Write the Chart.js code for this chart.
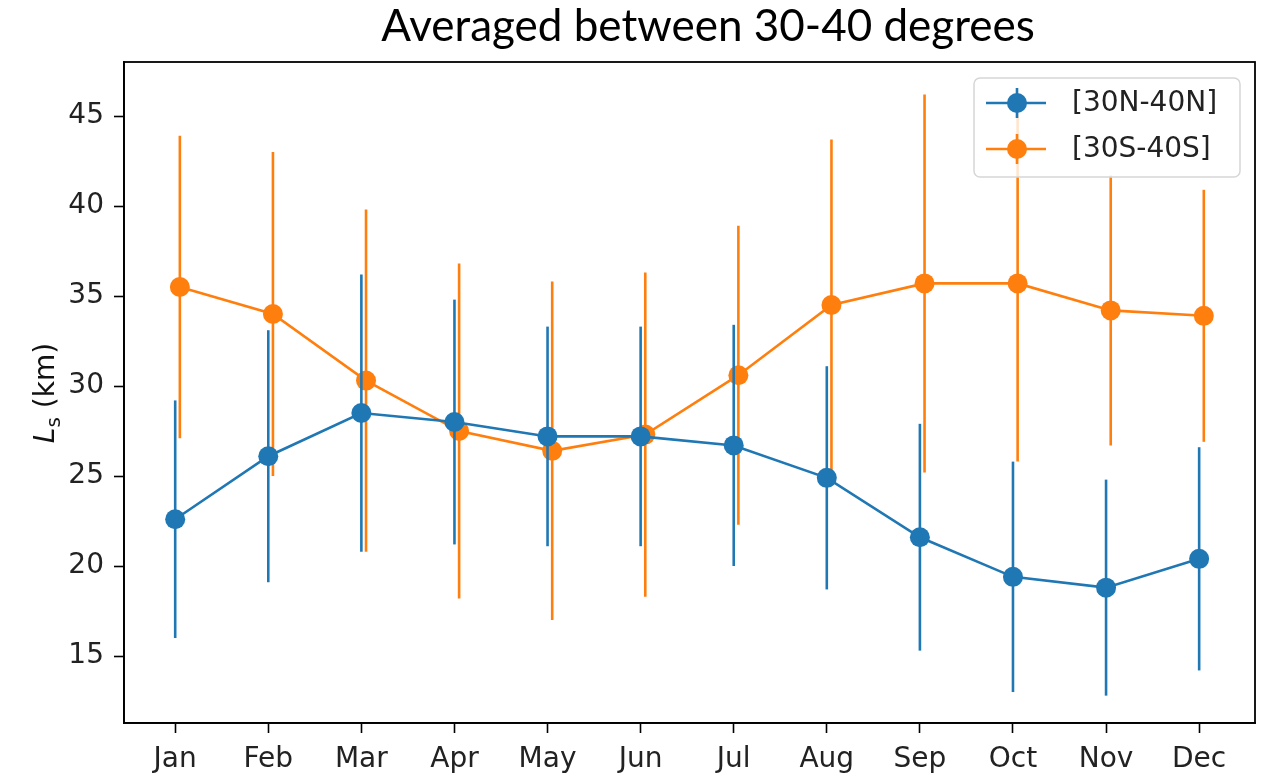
<!DOCTYPE html>
<html>
<head>
<meta charset="utf-8">
<style>
  body { margin: 0; background: #fff; }
  #wrap { width: 1266px; height: 776px; }
</style>
</head>
<body>
<div id="wrap"><canvas id="ls_chart" width="1266" height="776"></canvas></div>

<script src="https://cdn.jsdelivr.net/npm/chart.js"></script>
<script>
    // values (km)
    const months = ['Jan', 'Feb', 'Mar', 'Apr', 'May', 'Jun', 'Jul', 'Aug', 'Sep', 'Oct', 'Nov', 'Dec'];
    const north_mean = [22.6, 26.1, 28.5, 28.0, 27.2, 27.2, 26.7, 24.9, 21.6, 19.4, 18.8, 20.4];
    const north_err = [6.6, 7.0, 7.7, 6.8, 6.1, 6.1, 6.7, 6.2, 6.3, 6.4, 6.0, 6.2];
    const south_mean = [35.5, 34.0, 30.3, 27.5, 26.4, 27.3, 30.6, 34.5, 35.7, 35.7, 34.2, 33.9];
    const south_err = [8.4, 9.0, 9.5, 9.3, 9.4, 9.0, 8.3, 9.2, 10.5, 9.9, 7.5, 7.0];
    const y_ticks = [15, 20, 25, 30, 35, 40, 45];

    const blue = '#1f77b4';
    const orange = '#ff7f0e';
    const tickFont = { family: 'DejaVu Sans', size: 28 };

    function toPoints(values, shift){
        return values.map((v, i) => ({ x: i + shift, y: v }))
    }

    const errorBars = {
        id: 'errorBars',
        beforeDatasetDraw(chart, args){
            const ds = chart.data.datasets[args.index];
            const meta = args.meta;
            const y = chart.scales.y;
            const ctx = chart.ctx;
            const area = chart.chartArea;
            ctx.save();
            ctx.beginPath();
            ctx.rect(area.left, area.top, area.right - area.left, area.bottom - area.top);
            ctx.clip();
            ctx.strokeStyle = ds.borderColor;
            ctx.lineWidth = 2.6;
            meta.data.forEach((pt, i) => {
                const v = ds.data[i].y, e = ds.errors[i];
                ctx.beginPath();
                ctx.moveTo(pt.x, y.getPixelForValue(v - e));
                ctx.lineTo(pt.x, y.getPixelForValue(v + e));
                ctx.stroke();
            });
            ctx.restore();
        }
    };

    const decorations = {
        id: 'decorations',
        beforeDraw(chart){
            const ctx = chart.ctx;
            ctx.save();
            ctx.fillStyle = '#fff';
            ctx.fillRect(0, 0, chart.width, chart.height);
            ctx.restore();
        },
        afterDraw(chart){
            const ctx = chart.ctx;
            const area = chart.chartArea;
            ctx.save();

            // axes frame
            ctx.strokeStyle = '#000';
            ctx.lineWidth = 1.8;
            ctx.strokeRect(area.left, area.top, area.right - area.left, area.bottom - area.top);

            // title
            ctx.fillStyle = '#000';
            ctx.font = '44px Lato';
            ctx.textAlign = 'center';
            ctx.textBaseline = 'alphabetic';
            ctx.fillText('Averaged between 30-40 degrees', 708, 41);

            // y label: L_s (km)
            ctx.translate(54, 393);
            ctx.rotate(-Math.PI / 2);
            ctx.textAlign = 'left';
            ctx.fillStyle = '#111';
            const fL = 'italic 28px "DejaVu Sans"', fs = '20px "DejaVu Sans"', fk = '28px "DejaVu Sans"';
            ctx.font = fL; const wL = ctx.measureText('L').width;
            ctx.font = fs; const ws = ctx.measureText('s').width;
            ctx.font = fk; const wk = ctx.measureText(' (km)').width;
            let x0 = -(wL + ws + wk) / 2;
            ctx.font = fL; ctx.fillText('L', x0, 0);
            ctx.font = fs; ctx.fillText('s', x0 + wL, 6);
            ctx.font = fk; ctx.fillText(' (km)', x0 + wL + ws, 0);
            ctx.restore();

            // legend box
            ctx.save();
            const bx = 974, by = 78, bw = 266, bh = 99, r = 6;
            ctx.beginPath();
            ctx.moveTo(bx + r, by);
            ctx.arcTo(bx + bw, by, bx + bw, by + bh, r);
            ctx.arcTo(bx + bw, by + bh, bx, by + bh, r);
            ctx.arcTo(bx, by + bh, bx, by, r);
            ctx.arcTo(bx, by, bx + bw, by, r);
            ctx.closePath();
            ctx.fillStyle = 'rgba(255,255,255,0.8)';
            ctx.fill();
            ctx.strokeStyle = '#d6d6d6';
            ctx.lineWidth = 1.5;
            ctx.stroke();

            chart.data.datasets.forEach((ds, i) => {
                const ly = 103 + i * 46;
                ctx.strokeStyle = ds.borderColor;
                ctx.lineWidth = 2.6;
                ctx.beginPath();
                ctx.moveTo(986, ly); ctx.lineTo(1046, ly);
                ctx.moveTo(1017, ly - 15); ctx.lineTo(1017, ly + 15);
                ctx.stroke();
                ctx.fillStyle = ds.borderColor;
                ctx.beginPath();
                ctx.arc(1017, ly, 10, 0, Math.PI * 2);
                ctx.fill();
                ctx.fillStyle = '#222';
                ctx.font = '28px "DejaVu Sans"';
                ctx.textAlign = 'left';
                ctx.textBaseline = 'middle';
                ctx.fillText(ds.label, 1072, ly + 1);
            });
            ctx.restore();
        }
    };

    const ls_chart = new Chart(document.getElementById('ls_chart'), {
        type: 'line',
        data: {
            datasets: [{
                label: '[30N-40N]',
                data: toPoints(north_mean, 0),
                errors: north_err,
                borderColor: blue,
                backgroundColor: blue,
                borderWidth: 2.6,
                pointRadius: 10,
                pointBorderWidth: 0,
                pointBackgroundColor: blue,
            }, {
                label: '[30S-40S]',
                data: toPoints(south_mean, 0.05),
                errors: south_err,
                borderColor: orange,
                backgroundColor: orange,
                borderWidth: 2.6,
                pointRadius: 10,
                pointBorderWidth: 0,
                pointBackgroundColor: orange,
            }]
        },
        options: {
            responsive: false,
            animation: false,
            layout: {
                padding: { top: 62, right: 11, left: 0, bottom: 0 }
            },
            plugins: {
                legend: { display: false },
                title: { display: false },
                tooltip: { enabled: false }
            },
            scales: {
                x: {
                    type: 'linear',
                    min: -0.55,
                    max: 11.6,
                    afterBuildTicks: scale => { scale.ticks = months.map((m, i) => ({ value: i })) },
                    afterFit: scale => { scale.height = 53 },
                    ticks: {
                        autoSkip: false,
                        maxRotation: 0,
                        padding: 10,
                        color: '#222',
                        font: tickFont,
                        callback: v => months[v]
                    },
                    grid: {
                        drawOnChartArea: false,
                        tickLength: 10,
                        tickColor: '#000',
                        tickWidth: 1.6
                    },
                    border: { color: '#000', width: 1.8 }
                },
                y: {
                    min: 11.28,
                    max: 48,
                    afterBuildTicks: scale => { scale.ticks = y_ticks.map(v => ({ value: v })) },
                    afterFit: scale => { scale.width = 124 },
                    ticks: {
                        padding: 10,
                        color: '#222',
                        font: tickFont
                    },
                    grid: {
                        drawOnChartArea: false,
                        tickLength: 10,
                        tickColor: '#000',
                        tickWidth: 1.6
                    },
                    border: { color: '#000', width: 1.8 }
                }
            }
        },
        plugins: [errorBars, decorations]
    });
</script>
</body>
</html>
